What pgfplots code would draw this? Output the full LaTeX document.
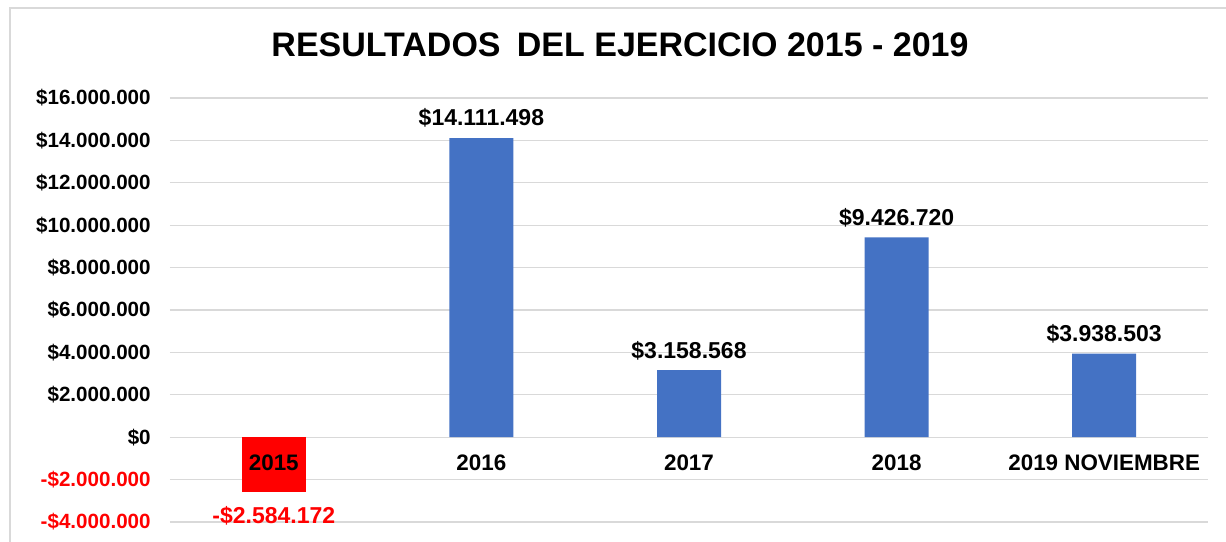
\documentclass[border=0pt]{standalone}
\usepackage{pgfplots}
\pgfplotsset{compat=1.18}
\usepackage{pgfplotstable}
\usepackage{fontspec}
\setmainfont{Liberation Sans}

\definecolor{barblue}{HTML}{4472C4}
\definecolor{negred}{HTML}{FF0000}
\definecolor{gridgray}{HTML}{D9D9D9}

% tick labels above the bars (the 2015 label sits on the red bar)
\pgfplotsset{
 layers/labels on top/.define layer set={
  axis background,axis grid,axis ticks,axis lines,pre main,main,
  axis tick labels,axis descriptions,axis foreground}{
  grid style={/pgfplots/on layer=axis grid},
  tick style={/pgfplots/on layer=axis ticks},
  axis line style={/pgfplots/on layer=axis lines},
  ticklabel style={/pgfplots/on layer=axis tick labels},
  label style={/pgfplots/on layer=axis descriptions},
  title style={/pgfplots/on layer=axis descriptions},
 },
}

% resultados positivos
\pgfplotstableread{
x y label
1 14111498 14.111.498
2 3158568 3.158.568
3 9426720 9.426.720
4 3938503 3.938.503
}\positivos
% 2015 (perdida)
\pgfplotstableread{
x y label
0 -2584172 2.584.172
}\negativos

\begin{document}
\begin{tikzpicture}
\begin{axis}[
 set layers=labels on top,
 at={(0,0)}, anchor=south west,
 scale only axis, width=519pt, height=212pt,
 xmin=-0.5, xmax=4.5,
 ymin=-4000000, ymax=16000000,
 enlargelimits=false,
 scaled y ticks=false,
 axis x line=middle, axis y line=left,
 axis line style={draw=none},
 tick style={draw=none},
 ymajorgrids,
 major grid style={gridgray, line width=0.6pt},
 xtick={0,1,2,3,4},
 xticklabels={2015,2016,2017,2018,2019 NOVIEMBRE},
 ytick={-4000000,-2000000,0,2000000,4000000,6000000,8000000,10000000,12000000,14000000,16000000},
 yticklabels={\textcolor{negred}{-\$4.000.000},\textcolor{negred}{-\$2.000.000},\$0,\$2.000.000,\$4.000.000,\$6.000.000,\$8.000.000,\$10.000.000,\$12.000.000,\$14.000.000,\$16.000.000},
 yticklabel style={font=\bfseries\fontsize{10.3}{12}\selectfont, xshift=-4pt},
 xticklabel style={font=\bfseries\fontsize{11.2}{13}\selectfont, yshift=-1pt},
 ybar, bar width=32pt,
 clip=false,
 point meta=explicit symbolic,
 nodes near coords style={font=\bfseries\fontsize{11.5}{13}\selectfont, inner sep=5pt},
]
\addplot[fill=barblue, draw=none, bar shift=0pt,
 nodes near coords={\$\pgfplotspointmeta}, nodes near coords align={above}]
 table[x=x, y=y, meta=label] {\positivos};
\addplot[fill=negred, draw=none, bar shift=0pt,
 nodes near coords={\textcolor{negred}{-\$\pgfplotspointmeta}},
 nodes near coords align={below},
 every node near coord/.append style={yshift=-2pt}]
 table[x=x, y=y, meta=label] {\negativos};
\end{axis}
\node[font=\bfseries\fontsize{17}{20}\selectfont] at (225pt,238.5pt) {RESULTADOS\ \hspace{0.2em}DEL EJERCICIO 2015 - 2019};
\draw[gridgray, line width=0.8pt] (-80pt,-30pt) -- (-80pt,257pt) -- (560pt,257pt);
\pgfresetboundingbox
\useasboundingbox (-85pt,-9.5pt) rectangle (528pt,261pt);
\end{tikzpicture}
\end{document}
